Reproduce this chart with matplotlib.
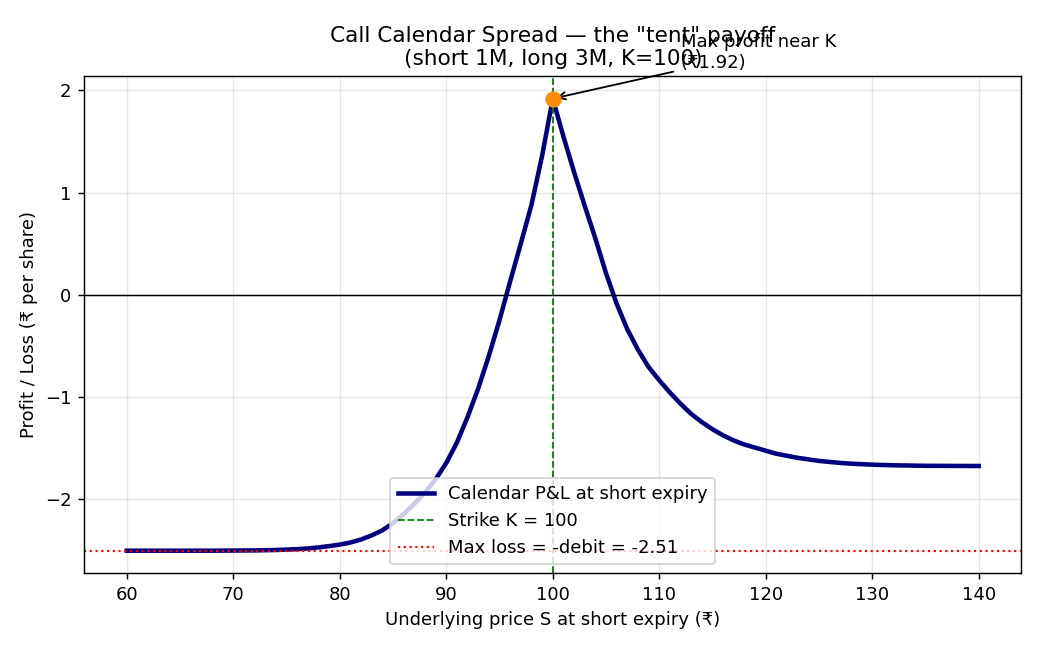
import matplotlib
matplotlib.use("Agg")
import matplotlib.pyplot as plt

# Underlying price at short expiry and calendar P&L
spot = [60, 68, 72, 74, 76, 77, 78, 79, 80, 81, 82, 83, 84, 85, 86, 87, 88, 89,
        90, 91, 92, 93, 94, 95, 96, 97, 98, 99, 100,
        101, 102, 103, 104, 105, 106, 107, 108, 109, 110, 111, 112, 113, 114,
        115, 116, 117, 118, 119, 120, 121, 122, 123, 124, 125, 126, 127, 128,
        130, 132, 135, 140]
pnl = [-2.51, -2.51, -2.507, -2.503, -2.495, -2.488, -2.478, -2.465, -2.45,
       -2.43, -2.40, -2.36, -2.31, -2.24, -2.15, -2.05, -1.94, -1.81,
       -1.65, -1.45, -1.20, -0.92, -0.60, -0.25, 0.13, 0.50, 0.88, 1.36, 1.92,
       1.55, 1.20, 0.87, 0.55, 0.21, -0.09, -0.34, -0.54, -0.71, -0.84, -0.96,
       -1.07, -1.17, -1.25, -1.32, -1.38, -1.43, -1.47, -1.50, -1.53, -1.56,
       -1.58, -1.60, -1.615, -1.63, -1.64, -1.65, -1.657, -1.667, -1.673,
       -1.678, -1.68]

strike = 100
max_loss = -2.51
peak_spot = 100
peak_pnl = 1.92

fig, ax = plt.subplots(figsize=(8, 5), dpi=130)

ax.plot(spot, pnl, color="navy", linewidth=2.5, label="Calendar P&L at short expiry")
ax.axhline(0, color="black", linewidth=0.8)
ax.axvline(strike, color="green", linestyle="--", linewidth=1, label=f"Strike K = {strike}")
ax.axhline(max_loss, color="red", linestyle=":", linewidth=1.2,
           label=f"Max loss = -debit = {max_loss:.2f}")

ax.plot([peak_spot], [peak_pnl], "o", color="darkorange", markersize=8, zorder=5)
ax.annotate(f"Max profit near K\n(₹{peak_pnl:.2f})",
            xy=(peak_spot, peak_pnl), xytext=(peak_spot + 12, peak_pnl + 0.3),
            arrowprops=dict(arrowstyle="->", color="black", lw=1))

ax.set_title('Call Calendar Spread — the "tent" payoff\n(short 1M, long 3M, K=100)')
ax.set_xlabel("Underlying price S at short expiry (₹)")
ax.set_ylabel("Profit / Loss (₹ per share)")
ax.grid(True, alpha=0.3)
ax.legend(loc="lower center")

fig.subplots_adjust(left=0.081, right=0.982, top=0.883, bottom=0.118)
fig.savefig("out.png")
